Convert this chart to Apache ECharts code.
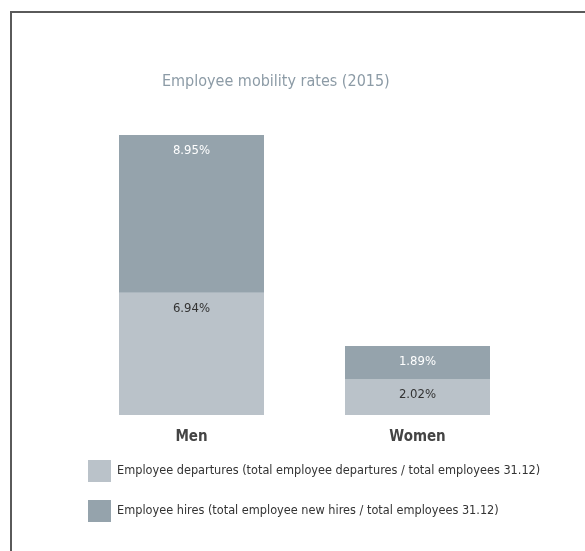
<!DOCTYPE html>
<html>
<head>
<meta charset="utf-8">
<style>html,body{margin:0;padding:0;background:#fff}#c{width:585px;height:551px}</style>
<script src="https://cdn.jsdelivr.net/npm/echarts@6/dist/echarts.min.js"></script>
</head>
<body>
<div id="c"></div>
<script>
const categories = ['Men', 'Women'];
const departures = [6.94, 2.02];
const hires = [8.95, 1.89];
const seriesNames = [
  'Employee departures (total employee departures / total employees 31.12)',
  'Employee hires (total employee new hires / total employees 31.12)'
];
const FONT = "'Liberation Sans Narrow', 'DejaVu Sans Condensed', sans-serif";
const chart = echarts.init(document.getElementById('c'));
chart.setOption({
  animation: false,
  backgroundColor: '#fff',
  title: {
    text: 'Employee mobility rates (2015)',
    left: 157, top: 69,
    textStyle: { fontFamily: FONT, fontSize: 16, fontWeight: 'normal', color: '#8c9ba6' }
  },
  grid: { left: 78.5, right: 54.5, top: 133, bottom: 136 },
  xAxis: {
    type: 'category', data: categories,
    axisLine: { show: false }, axisTick: { show: false },
    axisLabel: { fontFamily: FONT, fontSize: 15, fontWeight: 'bold', color: '#444', margin: 15 }
  },
  yAxis: { type: 'value', min: 0, max: 16, show: false, splitLine: { show: false } },
  legend: {
    orient: 'vertical', left: 83, top: 455, itemWidth: 23, itemHeight: 22, itemGap: 18,
    icon: 'rect',
    textStyle: { fontFamily: FONT, fontSize: 12.6, color: '#333', padding: [0, 0, 0, 1] },
    data: seriesNames
  },
  graphic: [
    { type: 'line', shape: { x1: 11, y1: 12, x2: 11, y2: 551 }, style: { stroke: '#5a5a5a', lineWidth: 2 } },
    { type: 'line', shape: { x1: 10, y1: 12, x2: 585, y2: 12 }, style: { stroke: '#5a5a5a', lineWidth: 2 } }
  ],
  series: [
    {
      name: seriesNames[0], type: 'bar', stack: 's', data: departures, barWidth: 145,
      itemStyle: { color: '#bac2c9' },
      label: { show: true, position: 'insideTop', distance: 9, formatter: p => p.value.toFixed(2) + '%',
        fontFamily: FONT, fontSize: 13, color: '#333' }
    },
    {
      name: seriesNames[1], type: 'bar', stack: 's', data: hires, barWidth: 145,
      itemStyle: { color: '#95a3ac' },
      label: { show: true, position: 'insideTop', distance: 9, formatter: p => p.value.toFixed(2) + '%',
        fontFamily: FONT, fontSize: 13, color: '#fff' }
    }
  ]
});
</script>
</body>
</html>
